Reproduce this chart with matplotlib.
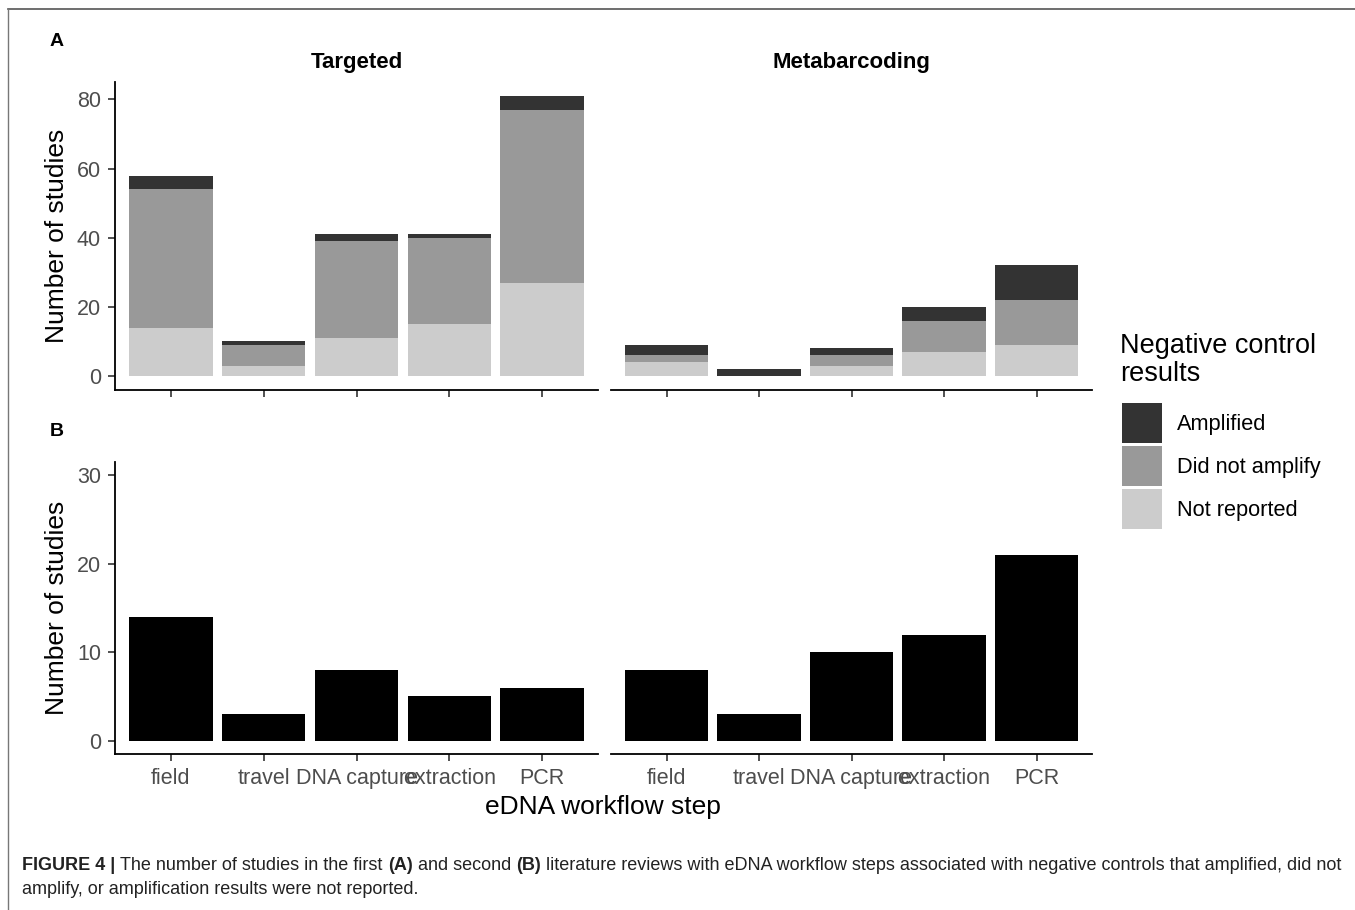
import numpy as np
import matplotlib
matplotlib.use("Agg")
import matplotlib.pyplot as plt
from matplotlib.patches import Patch

plt.rcParams['font.family'] = ['Liberation Sans', 'DejaVu Sans']

steps = ["field", "travel", "DNA capture", "extraction", "PCR"]
panels = ["Targeted", "Metabarcoding"]
results = ["Amplified", "Did not amplify", "Not reported"]
result_colors = ["#333333", "#999999", "#CCCCCC"]

# first review, stacked by negative control result
targeted_amplified = [4, 1, 2, 1, 4]
targeted_no_amp = [40, 6, 28, 25, 50]
targeted_not_reported = [14, 3, 11, 15, 27]
meta_amplified = [3, 2, 2, 4, 10]
meta_no_amp = [2, 0, 3, 9, 13]
meta_not_reported = [4, 0, 3, 7, 9]

# second review, totals only
targeted_second = [14, 3, 8, 5, 6]
meta_second = [8, 3, 10, 12, 21]

W, H = 1355, 910
fig = plt.figure(figsize=(W / 100, H / 100), dpi=100)

def box(left, top, right, bottom):
    return [left / W, 1 - bottom / H, (right - left) / W, (bottom - top) / H]

tick_col = "#4D4D4D"

def style(ax, first):
    ax.set_xlim(0.4, 5.6)
    for s in ["top", "right"]:
        ax.spines[s].set_visible(False)
    ax.spines["bottom"].set_linewidth(1.3)
    ax.spines["left"].set_linewidth(1.3)
    ax.tick_params(axis="both", length=5, width=1.2, color="#333333",
                   labelsize=15.5, labelcolor=tick_col, pad=5)
    ax.set_xticks(range(1, 6))
    if not first:
        ax.spines["left"].set_visible(False)
        ax.tick_params(axis="y", left=False, labelleft=False)

xs = np.arange(1, 6)

# panel A: stacked bars
stacks = [
    (targeted_not_reported, targeted_no_amp, targeted_amplified),
    (meta_not_reported, meta_no_amp, meta_amplified),
]
a_axes = [fig.add_axes(box(115, 82, 598, 390)), fig.add_axes(box(611, 82, 1092, 390))]
for i, ax in enumerate(a_axes):
    nr, na, am = stacks[i]
    ax.bar(xs, nr, width=0.9, color=result_colors[2])
    ax.bar(xs, na, width=0.9, bottom=nr, color=result_colors[1])
    ax.bar(xs, am, width=0.9, bottom=np.add(nr, na), color=result_colors[0])
    ax.set_ylim(-4.05, 85.05)
    ax.set_yticks([0, 20, 40, 60, 80])
    style(ax, i == 0)
    ax.set_xticklabels([])
    ax.set_title(panels[i], fontsize=16, fontweight="bold", pad=10)
a_axes[0].set_ylabel("Number of studies", fontsize=19, labelpad=6)

# panel B: plain bars
b_axes = [fig.add_axes(box(115, 462, 598, 754)), fig.add_axes(box(611, 462, 1092, 754))]
for i, (ax, vals) in enumerate(zip(b_axes, [targeted_second, meta_second])):
    ax.bar(xs, vals, width=0.9, color="black")
    ax.set_ylim(-1.5, 31.5)
    ax.set_yticks([0, 10, 20, 30])
    style(ax, i == 0)
    ax.set_xticklabels(steps)
b_axes[0].set_ylabel("Number of studies", fontsize=19, labelpad=6)

fig.text(603 / W, 1 - 807 / H, "eDNA workflow step", fontsize=19,
         ha="center", va="center")
fig.text(57 / W, 1 - 41 / H, "A", fontsize=14, fontweight="bold", ha="center", va="center")
fig.text(57 / W, 1 - 432 / H, "B", fontsize=14, fontweight="bold", ha="center", va="center")

# legend: title set as its own text so the key block can sit lower
fig.text(1120 / W, 1 - 360 / H, "Negative control\nresults", fontsize=19.5,
         ha="left", va="center", linespacing=1.1)
handles = [Patch(facecolor=c, edgecolor="none") for c in result_colors]
fig.legend(handles, results, loc="upper left",
           bbox_to_anchor=(1122 / W, 1 - 403 / H), frameon=False,
           fontsize=15.7, handlelength=1.83, handleheight=2.445,
           labelspacing=0.138, handletextpad=0.69, borderpad=0,
           borderaxespad=0)

# caption and page frame
cap = fig.add_axes([0, 0, 1, 1])
cap.axis("off")
cap.set_xlim(0, W)
cap.set_ylim(H, 0)
cap.plot([8, W], [8.5, 8.5], color="#555555", lw=1.2)
cap.plot([8, 8], [8.5, H], color="#777777", lw=1.0)
cap.set_zorder(-1)

cs = 13
cap_col = "#222222"
pieces = [
    ("FIGURE 4 |", "bold"),
    ("The number of studies in the first", "normal"),
    ("(A)", "bold"),
    ("and second", "normal"),
    ("(B)", "bold"),
    ("literature reviews with eDNA workflow steps associated with negative controls that amplified, did not", "normal"),
]
prev = cap.text(22, 865, pieces[0][0], fontsize=cs, fontweight=pieces[0][1],
                color=cap_col, va="center", ha="left")
for txt, wt in pieces[1:]:
    prev = cap.annotate(txt, xy=(1, 0), xycoords=prev, xytext=(3.7, 0),
                        textcoords="offset points", fontsize=cs, fontweight=wt,
                        color=cap_col, va="bottom", ha="left")
cap.text(22, 890, "amplify, or amplification results were not reported.",
         fontsize=cs, color=cap_col, va="center", ha="left")

fig.savefig("out.png", dpi=100)
